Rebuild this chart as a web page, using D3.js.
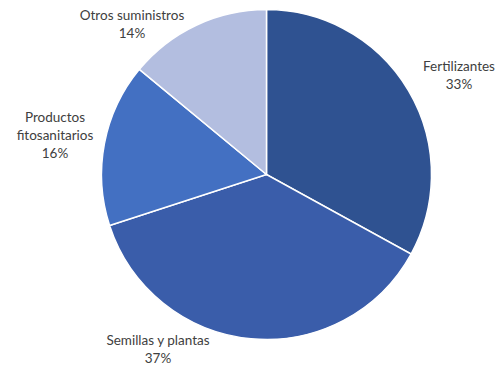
<!DOCTYPE html>
<html><head><meta charset="utf-8">
<script src="https://cdn.jsdelivr.net/npm/d3@7"></script>
<style>body{margin:0;background:#fff}svg{display:block}text{font-family:Lato,"Open Sans",sans-serif;font-size:13.5px;fill:#404040}</style>
</head><body><svg id="c" width="500" height="367"></svg>
<script>
const categories = ["Fertilizantes", "Semillas y plantas", "Productos fitosanitarios", "Otros suministros"];
const values = [33, 37, 16, 14];
const colors = ["#2F5291", "#3A5DAA", "#4370C2", "#B3BEE0"];
const labelLines = [["Fertilizantes"], ["Semillas y plantas"], ["Productos", "fitosanitarios"], ["Otros suministros"]];
// label anchor positions (baseline of first line), layout only
const labelPos = [[459, 71], [158, 345], [55, 122], [132, 20]];

const svg = d3.select("#c");
const cx = 266.5, cy = 174.5, r = 165;
const pie = d3.pie().sort(null).value(d => d)(values);
const arc = d3.arc().innerRadius(0).outerRadius(r);
const g = svg.append("g").attr("transform", `translate(${cx},${cy})`);
g.selectAll("path").data(pie).join("path")
  .attr("d", arc).attr("fill", (d, i) => colors[i])
  .attr("stroke", "#fff").attr("stroke-width", 1.5);

const lh = 18;
pie.forEach((d, i) => {
  const lines = labelLines[i].concat([d3.format(".0f")(values[i]) + "%"]);
  const t = svg.append("text").attr("text-anchor", "middle")
    .attr("x", labelPos[i][0]).attr("y", labelPos[i][1]);
  lines.forEach((l, j) => t.append("tspan").attr("x", labelPos[i][0]).attr("dy", j ? lh : 0).text(l));
});
</script></body></html>
